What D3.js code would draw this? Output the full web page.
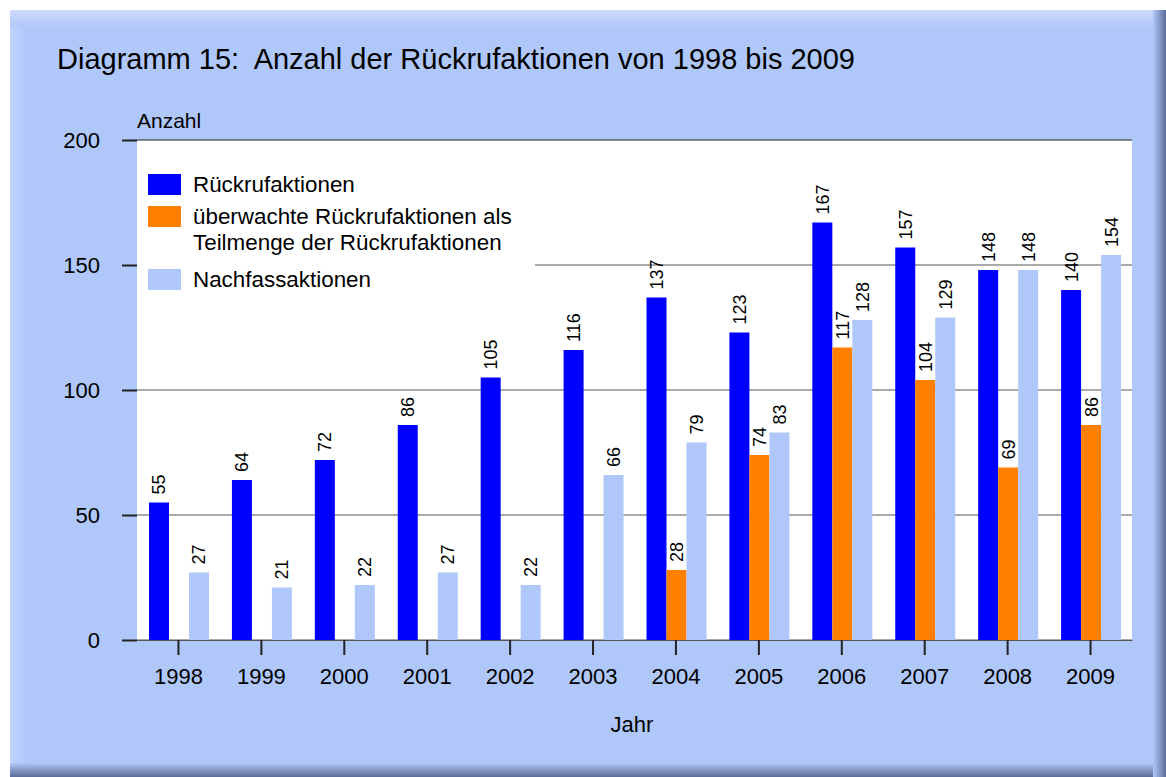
<!DOCTYPE html>
<html>
<head>
<meta charset="utf-8">
<script src="https://cdn.jsdelivr.net/npm/d3@7"></script>
<style>
body{margin:0;background:#fff;}
svg text{font-family:"Liberation Sans",Arial,sans-serif;fill:#000;}
</style>
</head>
<body>
<div id="chart"></div>
<script>
//数据
var years=["1998","1999","2000","2001","2002","2003","2004","2005","2006","2007","2008","2009"];
var rueckruf=[55,64,72,86,105,116,137,123,167,157,148,140];
var ueberwacht=[null,null,null,null,null,null,28,74,117,104,69,86];
var nachfass=[27,21,22,27,22,66,79,83,128,129,148,154];
var yTicks=[0,50,100,150,200];
var seriesNames=["Rückrufaktionen","überwachte Rückrufaktionen als|Teilmenge der Rückrufaktionen","Nachfassaktionen"];
var colors=["#0000ff","#ff8000","#b0c8f9"];

var width=1166,height=777;
var margin={left:137,right:34,top:140,bottom:137};
var svg=d3.select("#chart").append("svg")
    .attr("width",width)
    .attr("height",height);

//背景面板和阴影
var defs=svg.append("defs");
function grad(id,horiz,c0,c1){
    var gr=defs.append("linearGradient").attr("id",id)
        .attr("x1","0").attr("y1","0")
        .attr("x2",horiz?"1":"0").attr("y2",horiz?"0":"1");
    gr.append("stop").attr("offset","0").attr("stop-color",c0);
    gr.append("stop").attr("offset","1").attr("stop-color",c1);
}
grad("shR",true,"#b0c8f9","#5d6c98");
grad("shB",false,"#b0c8f9","#5d6c98");
grad("shT",false,"#cfdcfd","#b0c8f9");
grad("shL",true,"#c3d4fb","#b0c8f9");

svg.append("rect").attr("x",10).attr("y",10).attr("width",1156).attr("height",767).attr("fill","#b0c8f9");
svg.append("rect").attr("x",10).attr("y",10).attr("width",1156).attr("height",17).attr("fill","url(#shT)");
svg.append("rect").attr("x",10).attr("y",27).attr("width",16).attr("height",736).attr("fill","url(#shL)");
svg.append("rect").attr("x",1153).attr("y",10).attr("width",13).attr("height",767).attr("fill","url(#shR)");
svg.append("rect").attr("x",10).attr("y",763).attr("width",1143).attr("height",14).attr("fill","url(#shB)");

svg.append("text")
    .attr("x",57).attr("y",69)
    .style("font-size","29px")
    .attr("xml:space","preserve")
    .text("Diagramm 15:  Anzahl der Rückrufaktionen von 1998 bis 2009");

var plotW=width-margin.left-margin.right;
var plotH=height-margin.top-margin.bottom;
var g=svg.append("g").attr("transform","translate("+margin.left+","+margin.top+")");

var x=d3.scaleBand().domain(years).range([0,plotW]).padding(0);
var y=d3.scaleLinear().domain([0,200]).range([plotH,0]);
var sub=d3.scaleBand().domain([0,1,2]).range([12,72]);

g.append("rect").attr("width",plotW).attr("height",plotH).attr("fill","#fff");

//网格线
g.selectAll(".grid").data(yTicks).enter().append("line")
    .attr("x1",0).attr("x2",plotW)
    .attr("y1",function(d){return y(d);}).attr("y2",function(d){return y(d);})
    .attr("stroke",function(d){return d==200?"#222":"#555";})
    .attr("stroke-width",1);

//Y轴
var yAxis=g.append("g").call(d3.axisLeft(y).tickValues(yTicks).tickSize(15).tickPadding(22));
yAxis.select(".domain").remove();
yAxis.selectAll(".tick line").attr("stroke","#222").attr("stroke-width",2);
yAxis.selectAll("text").style("font-size","22px");

//X轴
var xAxis=g.append("g").attr("transform","translate(0,"+plotH+")")
    .call(d3.axisBottom(x).tickSize(15).tickPadding(13).tickSizeOuter(0));
xAxis.select(".domain").attr("stroke","#555");
xAxis.selectAll(".tick line").attr("stroke","#222").attr("stroke-width",2);
xAxis.selectAll("text").style("font-size","22px");

svg.append("text").attr("x",margin.left).attr("y",128).style("font-size","21px").text("Anzahl");
svg.append("text").attr("x",632).attr("y",732).attr("text-anchor","middle").style("font-size","22px").text("Jahr");

//图例背景
g.append("rect").attr("x",0).attr("y",12).attr("width",398).attr("height",150).attr("fill","#fff");

//柱子
var allSeries=[rueckruf,ueberwacht,nachfass];
allSeries.forEach(function(vals,si){
    var data=years.map(function(yr,i){return {year:yr,v:vals[i]};}).filter(function(d){return d.v!=null;});
    g.selectAll(".bar"+si).data(data).enter().append("rect")
        .attr("x",function(d){return x(d.year)+sub(si);})
        .attr("width",sub.bandwidth())
        .attr("y",function(d){return y(d.v);})
        .attr("height",function(d){return plotH-y(d.v);})
        .attr("fill",colors[si]);
    g.selectAll(".lab"+si).data(data).enter().append("text")
        .attr("transform",function(d){
            return "translate("+(x(d.year)+sub(si)+sub.bandwidth()/2)+","+(y(d.v)-8)+") rotate(-90)";
        })
        .attr("dy","0.36em")
        .style("font-size","18px")
        .text(function(d){return d.v;});
});

//图例
var legY=[34,66,129];
seriesNames.forEach(function(name,i){
    g.append("rect").attr("x",11).attr("y",legY[i]).attr("width",33).attr("height",21).attr("fill",colors[i]);
    var lines=name.split("|");
    lines.forEach(function(t,j){
        g.append("text").attr("x",56).attr("y",legY[i]+18+j*26).style("font-size","22.4px").text(t);
    });
});
</script>
</body>
</html>
